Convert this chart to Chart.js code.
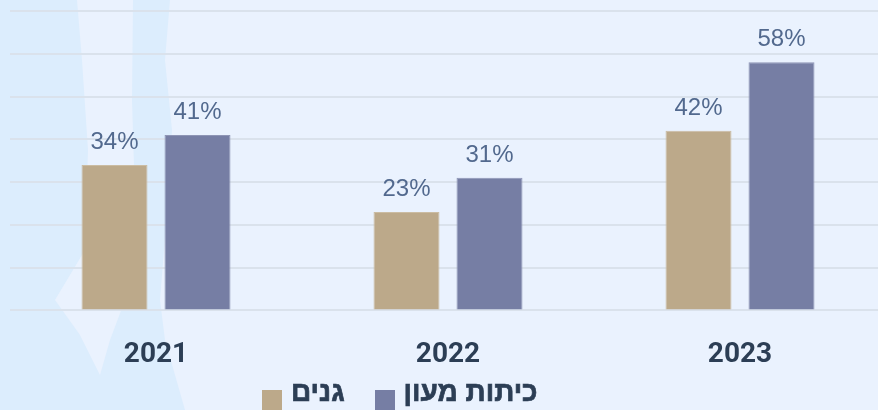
<!DOCTYPE html>
<html lang="he">
<head>
<meta charset="utf-8">
<script src="https://cdn.jsdelivr.net/npm/chart.js@4"></script>
<style>
  html, body { margin: 0; padding: 0; }
  body { width: 878px; height: 410px; overflow: hidden; background: #eaf2fe; position: relative; }
  #wrap { position: absolute; left: 0; top: 0; width: 886px; height: 410px; }
  #legend { position: absolute; left: 262px; top: 376px; display: flex; align-items: flex-start;
    font: bold 28px "Liberation Sans", Arial, sans-serif; color: #2c3e55; white-space: nowrap; line-height: 32px;
    -webkit-text-stroke: 0.7px #2c3e55; }
  #legend .box { display: inline-block; width: 20px; height: 20px; margin-top: 14px; }
  #legend .txt { margin-left: 9px; margin-right: 30px; }
</style>
</head>
<body>
<div id="wrap"><canvas id="barChart"></canvas></div>
<div id="legend"></div>
<script>
const years = ['2021', '2022', '2023'];
const gardens = [34, 23, 42];      // גנים
const daycare = [41, 31, 58];      // כיתות מעון
const seriesNames = ['גנים', 'כיתות מעון'];
const yTicks = [0, 10, 20, 30, 40, 50, 60, 70];

document.addEventListener('DOMContentLoaded', function () {
    const ctx = document.getElementById('barChart').getContext('2d');

    // light map-like backdrop on the left
    const backdrop = {
        id: 'backdrop',
        beforeDraw(chart) {
            const c = chart.ctx;
            c.save();
            c.fillStyle = '#eaf2fe';
            c.fillRect(0, 0, chart.width, chart.height);
            c.fillStyle = '#dcedfd';
            c.beginPath();
            [[0, 0], [170, 0], [165, 60], [172, 130], [168, 200], [160, 300], [165, 340], [175, 375], [185, 410], [0, 410]]
                .forEach((p, i) => i ? c.lineTo(p[0], p[1]) : c.moveTo(p[0], p[1]));
            c.closePath();
            c.fill();
            c.fillStyle = '#eaf2fe';
            c.beginPath();
            [[77, 0], [133, 0], [132, 100], [135, 200], [125, 300], [110, 340], [100, 375], [80, 335], [55, 300], [85, 250], [88, 150], [82, 60]]
                .forEach((p, i) => i ? c.lineTo(p[0], p[1]) : c.moveTo(p[0], p[1]));
            c.closePath();
            c.fill();
            c.restore();
        }
    };

    const valueLabels = {
        id: 'valueLabels',
        afterDatasetsDraw(chart) {
            const c = chart.ctx;
            c.save();
            c.font = '24px "Liberation Sans", Arial, sans-serif';
            c.fillStyle = '#52698e';
            c.textAlign = 'center';
            c.textBaseline = 'alphabetic';
            chart.data.datasets.forEach((ds, i) => {
                chart.getDatasetMeta(i).data.forEach((bar, j) => {
                    c.fillText(ds.data[j] + '%', bar.x, bar.y - 16);
                });
            });
            c.restore();
        }
    };

    const data = {
        labels: years,
        datasets: [{
            label: seriesNames[0],
            data: gardens,
            backgroundColor: '#bca98a',
            borderColor: '#cbbca2',
            borderWidth: 1,
            categoryPercentage: 0.5685,
            barPercentage: 0.795
        }, {
            label: seriesNames[1],
            data: daycare,
            backgroundColor: '#767ea4',
            borderColor: '#8e95b5',
            borderWidth: 1,
            categoryPercentage: 0.5685,
            barPercentage: 0.795
        }]
    };

    const config = {
        type: 'bar',
        data: data,
        options: {
            responsive: true,
            maintainAspectRatio: false,
            animation: false,
            layout: { padding: { left: 10, right: 0, top: 11, bottom: 10 } },
            scales: {
                x: {
                    grid: { display: false, drawTicks: false },
                    border: { display: false },
                    ticks: {
                        padding: 28,
                        color: '#2c3e55',
                        font: { family: 'Roboto, "Liberation Sans", sans-serif', size: 28, weight: 'bold' }
                    }
                },
                y: {
                    min: yTicks[0],
                    max: yTicks[yTicks.length - 1],
                    afterBuildTicks: axis => { axis.ticks = yTicks.map(v => ({ value: v })); },
                    grid: { color: '#dae2ec', lineWidth: 2, drawTicks: false },
                    border: { display: false },
                    ticks: { display: false }
                }
            },
            plugins: {
                legend: { display: false },
                tooltip: { enabled: false }
            }
        },
        plugins: [backdrop, valueLabels]
    };

    const chart = new Chart(ctx, config);

    const legend = document.getElementById('legend');
    chart.data.datasets.forEach(ds => {
        const box = document.createElement('span');
        box.className = 'box';
        box.style.background = ds.backgroundColor;
        const txt = document.createElement('span');
        txt.className = 'txt';
        txt.textContent = ds.label;
        legend.appendChild(box);
        legend.appendChild(txt);
    });
});
</script>
</body>
</html>
